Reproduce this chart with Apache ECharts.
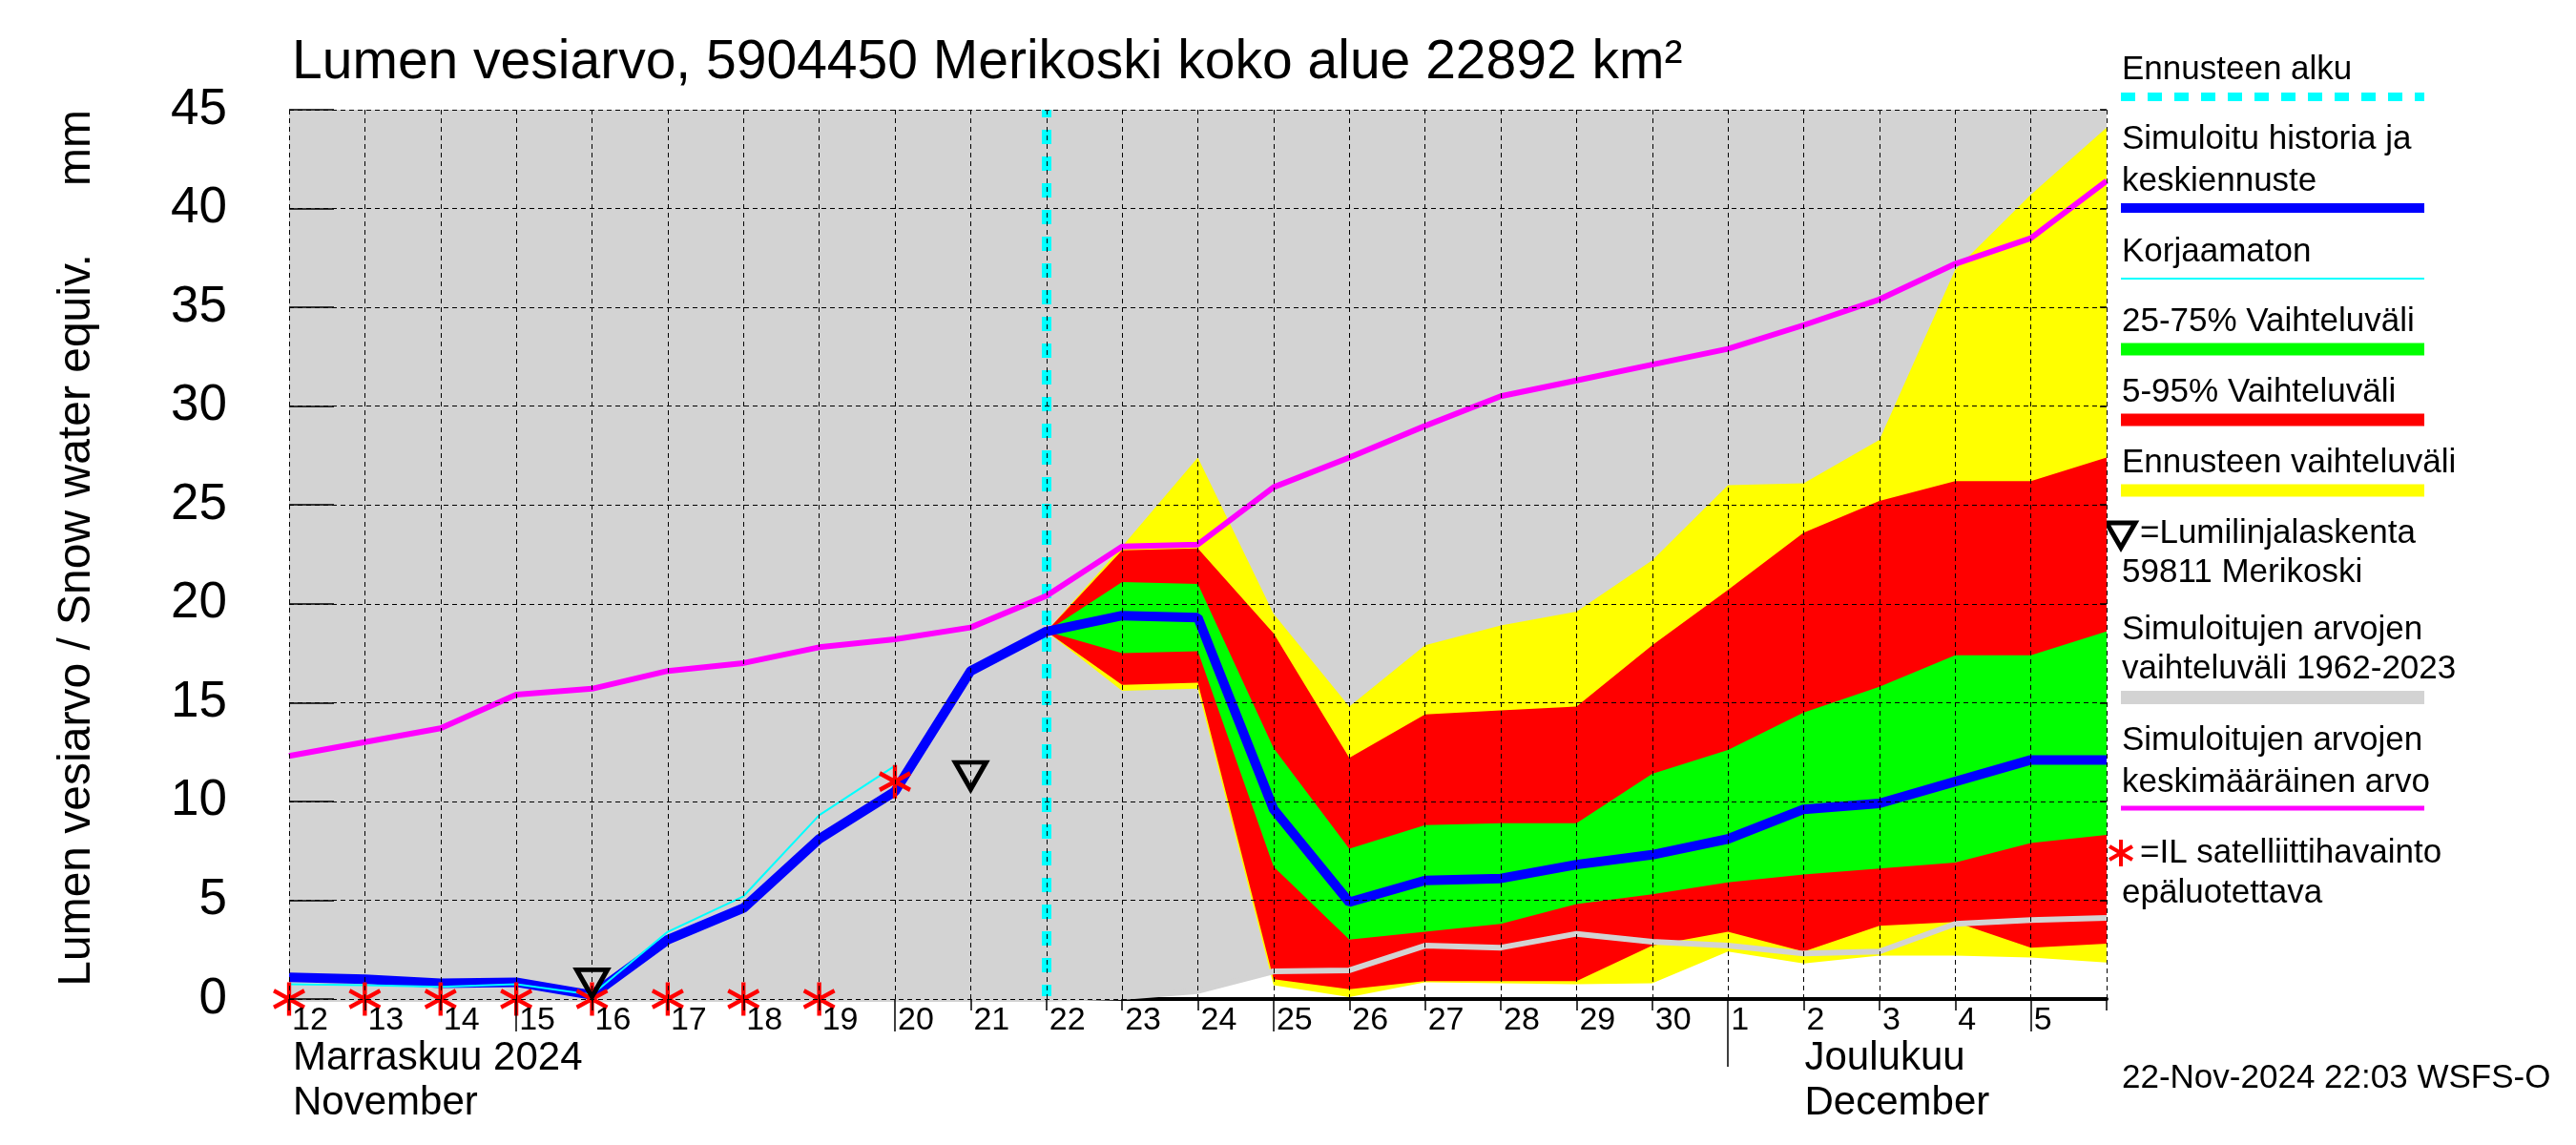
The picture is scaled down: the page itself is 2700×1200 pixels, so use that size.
<!DOCTYPE html>
<html>
<head>
<meta charset="utf-8">
<script src="https://cdn.jsdelivr.net/npm/echarts@6/dist/echarts.min.js"></script>
<style>
html,body{margin:0;padding:0;background:#fff;}
#c{width:2700px;height:1200px;}
</style>
</head>
<body>
<div id="c"></div>
<script>
// ---- categories: days from 12 Nov 2024 to 6 Dec 2024 (00:00 of each day) ----
const days = ['12','13','14','15','16','17','18','19','20','21','22','23','24','25','26','27','28','29','30','1','2','3','4','5','6'];
const yTicks = [0, 5, 10, 15, 20, 25, 30, 35, 40, 45];
const Y_MIN = 0, Y_MAX = 45, Y_STEP = 5;

// ---- series values (mm) ----
const simulated = [1.1, 1.0, 0.8, 0.85, 0.2, 3.0, 4.6, 8.1, 10.5, 16.6, 18.6, 19.4, 19.3, 9.6, 4.9, 6.0, 6.1, 6.8, 7.3, 8.1, 9.6, 9.9, 11.0, 12.1, 12.1];
const uncorrected = [0.75, 0.7, 0.62, 0.75, 0.22, 3.4, 5.2, 9.3, 11.8, null, null, null, null, null, null, null, null, null, null, null, null, null, null, null, null];
const histMean = [12.3, 13.0, 13.7, 15.4, 15.7, 16.6, 17.0, 17.8, 18.2, 18.8, 20.4, 22.9, 23.0, 25.9, 27.4, 29.0, 30.5, 31.3, 32.1, 32.9, 34.1, 35.4, 37.2, 38.5, 41.4];
const histMin = [0, 0, 0, 0, 0, 0, 0, 0, 0, 0, 0, 0.1, 0.4, 1.4, 1.45, 2.7, 2.6, 3.3, 2.9, 2.7, 2.3, 2.4, 3.8, 4.0, 4.1];
const fcMax = [null, null, null, null, null, null, null, null, null, null, 18.6, 22.9, 27.4, 19.5, 14.8, 17.9, 18.9, 19.6, 22.2, 26.0, 26.1, 28.3, 36.9, 40.7, 44.1];
const fcMin = [null, null, null, null, null, null, null, null, null, null, 18.6, 15.6, 15.7, 0.7, 0.1, 0.85, 0.8, 0.75, 0.8, 2.4, 1.8, 2.2, 2.2, 2.1, 1.85];
const p95 = [null, null, null, null, null, null, null, null, null, null, 18.6, 22.7, 22.8, 18.5, 12.2, 14.4, 14.6, 14.8, 17.9, 20.7, 23.6, 25.2, 26.2, 26.2, 27.4];
const p05 = [null, null, null, null, null, null, null, null, null, null, 18.6, 15.9, 16.0, 1.0, 0.5, 0.9, 0.9, 0.9, 2.7, 3.4, 2.4, 3.7, 3.9, 2.6, 2.8];
const p75 = [null, null, null, null, null, null, null, null, null, null, 18.6, 21.1, 21.0, 12.7, 7.6, 8.8, 8.9, 8.9, 11.4, 12.6, 14.5, 15.8, 17.4, 17.4, 18.6];
const p25 = [null, null, null, null, null, null, null, null, null, null, 18.6, 17.5, 17.6, 6.7, 3.0, 3.4, 3.8, 4.8, 5.3, 5.9, 6.3, 6.6, 6.9, 7.9, 8.3];

// ---- point observations ----
const satDays = ['12','13','14','15','16','17','18','19','20'];
const satValues = [0, 0, 0, 0, 0, 0, 0, 0, 11.0];
const snowLineDays = ['16','21'];
const snowLineValues = [0.8, 11.3];
const forecastStartDay = '22';

// ---- texts ----
const titleText = 'Lumen vesiarvo, 5904450 Merikoski koko alue 22892 km\u00b2';
const yNameMain = 'Lumen vesiarvo / Snow water equiv.';
const yNameUnit = 'mm';
const monthLabels = [
  {day: '12', lines: ['Marraskuu 2024', 'November'], dx: 4},
  {day: '2', lines: ['Joulukuu', 'December'], dx: 1}
];
const stampText = '22-Nov-2024 22:03 WSFS-O';

const FONT = '"Liberation Sans", Arial, Helvetica, sans-serif';
const STAR = 'path://M0,-1L0,1M-0.9,-0.5L0.9,0.5M-0.9,0.5L0.9,-0.5';

function diff(hi, lo) {
  return hi.map((v, i) => (v == null || lo[i] == null) ? null : +(v - lo[i]).toFixed(4));
}
const histTop = histMin.map(() => Y_MAX);

function baseSeries(stack, data, z) {
  return {type: 'line', stack: stack, data: data, symbol: 'none', silent: true, z: z,
    lineStyle: {width: 0, opacity: 0}};
}
function bandSeries(stack, data, color, z) {
  return {type: 'line', stack: stack, data: data, symbol: 'none', silent: true, z: z,
    lineStyle: {width: 0, opacity: 0}, areaStyle: {color: color, opacity: 1}};
}
function lineSeries(data, color, width, z) {
  return {type: 'line', data: data, symbol: 'none', silent: true, z: z,
    lineStyle: {color: color, width: width}};
}

const chart = echarts.init(document.getElementById('c'), null, {renderer: 'canvas'});

const gridLine = {show: true, lineStyle: {color: '#000', width: 1, type: [5, 4]}};

const option = {
  animation: false,
  backgroundColor: '#ffffff',
  grid: {left: 303, top: 115, width: 1905, height: 932},
  xAxis: [
    { // main axis: grid lines, labels, short ticks
      type: 'category', data: days, boundaryGap: false, z: 10,
      axisLine: {show: false},
      axisTick: {show: true, interval: 0, length: 12, lineStyle: {color: '#000', width: 1.5}},
      axisLabel: {interval: 0, align: 'left', padding: [0, 0, 0, 3], margin: 6,
        fontSize: 34, fontFamily: FONT, color: '#000',
        formatter: (v, i) => (i === days.length - 1 ? '' : v)},
      splitLine: Object.assign({interval: 0}, gridLine)
    },
    { // bottom base line, drawn below the historical range area
      type: 'category', data: days, boundaryGap: false, position: 'bottom', offset: 0, z: 0,
      axisLine: {show: true, lineStyle: {color: '#000', width: 4}},
      axisTick: {show: false}, axisLabel: {show: false}, splitLine: {show: false}
    },
    { // longer ticks every 5 days
      type: 'category', data: days, boundaryGap: false, position: 'bottom', offset: 0, z: 10,
      axisLine: {show: false}, axisLabel: {show: false}, splitLine: {show: false},
      axisTick: {show: true, length: 34, lineStyle: {color: '#000', width: 1.5},
        interval: (i, v) => ['15', '20', '25', '5'].indexOf(v) >= 0}
    },
    { // month boundary tick
      type: 'category', data: days, boundaryGap: false, position: 'bottom', offset: 0, z: 10,
      axisLine: {show: false}, axisLabel: {show: false}, splitLine: {show: false},
      axisTick: {show: true, length: 71, lineStyle: {color: '#000', width: 1.5},
        interval: (i, v) => v === '1'}
    }
  ],
  yAxis: [
    {
      type: 'value', min: Y_MIN, max: Y_MAX, interval: Y_STEP, z: 10,
      axisLine: {show: false},
      axisTick: {show: true, inside: true, length: 47, lineStyle: {color: '#000', width: 1.5}},
      axisLabel: {margin: 65, fontSize: 53, fontFamily: FONT, color: '#000',
        formatter: v => (yTicks.indexOf(v) >= 0 ? String(v) : '')},
      splitLine: gridLine
    },
    {
      type: 'value', min: Y_MIN, max: Y_MAX, interval: Y_STEP, position: 'right', z: 10,
      axisLine: {show: false}, axisLabel: {show: false}, splitLine: {show: false},
      axisTick: {show: true, inside: true, length: 7, lineStyle: {color: '#000', width: 1.5}}
    }
  ],
  series: [
    // historical range 1962-2023 (grey)
    baseSeries('hist', histMin, 1),
    bandSeries('hist', diff(histTop, histMin), '#d3d3d3', 1),
    // forecast full range (yellow)
    baseSeries('fc', fcMin, 2),
    bandSeries('fc', diff(fcMax, fcMin), '#ffff00', 2),
    // 5-95 % (red)
    baseSeries('p90', p05, 2),
    bandSeries('p90', diff(p95, p05), '#ff0000', 2),
    // 25-75 % (green)
    baseSeries('p50', p25, 2),
    bandSeries('p50', diff(p75, p25), '#00ff00', 2),
    // forecast start marker
    {
      type: 'line', data: [], silent: true, z: 3,
      markLine: {silent: true, symbol: 'none', z: 3, animation: false,
        label: {show: false},
        lineStyle: {color: '#00ffff', width: 10, type: [15, 13]},
        data: [{xAxis: forecastStartDay}]}
    },
    // lower edge of historical range, drawn over bands
    lineSeries(histMin, '#d3d3d3', 6, 4),
    // historical mean (magenta)
    lineSeries(histMean, '#ff00ff', 6, 4),
    // simulated history & mean forecast (blue)
    lineSeries(simulated, '#0000ff', 10, 4),
    // uncorrected (thin cyan)
    lineSeries(uncorrected, '#00ffff', 2, 4),
    // IL satellite observations (unreliable)
    {
      type: 'scatter', silent: true, z: 5,
      data: satDays.map((d, i) => [d, satValues[i]]),
      symbol: STAR, symbolSize: [32, 35],
      itemStyle: {color: 'rgba(0,0,0,0)', borderColor: '#ff0000', borderWidth: 4.5, opacity: 1}
    },
    // snow line survey
    {
      type: 'scatter', silent: true, z: 5,
      data: snowLineDays.map((d, i) => [d, snowLineValues[i]]),
      symbol: 'triangle', symbolRotate: 180, symbolSize: [32, 28],
      itemStyle: {color: 'rgba(0,0,0,0)', borderColor: '#000000', borderWidth: 5, opacity: 1}
    }
  ]
};

chart.setOption(option);

// ---- texts and legend as graphic elements ----
function txt(t, x, y, size, extra) {
  return Object.assign({type: 'text', x: x, y: y, silent: true,
    style: {text: t, fontSize: size, fontFamily: FONT, fill: '#000', align: 'left', verticalAlign: 'middle'}}, extra || {});
}
function hline(y, color, width, dash) {
  return {type: 'line', silent: true,
    shape: {x1: 2223, y1: y, x2: 2541, y2: y},
    style: {stroke: color, lineWidth: width, lineDash: dash || null}};
}

const LT = 2224, LF = 35;
const g = [];
g.push(txt(titleText, 306, 66, 57));
g.push(Object.assign(txt(yNameMain, 81, 650, 48), {rotation: Math.PI / 2}));
g[g.length - 1].style.align = 'center';
g.push(Object.assign(txt(yNameUnit, 81, 155, 48), {rotation: Math.PI / 2}));
g[g.length - 1].style.align = 'center';

// legend
g.push(txt('Ennusteen alku', LT, 73, LF));
g.push(hline(101.5, '#00ffff', 9, [15, 13]));
g.push(txt('Simuloitu historia ja', LT, 146, LF));
g.push(txt('keskiennuste', LT, 190, LF));
g.push(hline(218, '#0000ff', 10));
g.push(txt('Korjaamaton', LT, 264, LF));
g.push(hline(292, '#00ffff', 2));
g.push(txt('25-75% Vaihteluväli', LT, 337, LF));
g.push(hline(366, '#00ff00', 13));
g.push(txt('5-95% Vaihteluväli', LT, 411, LF));
g.push(hline(440, '#ff0000', 13));
g.push(txt('Ennusteen vaihteluväli', LT, 485, LF));
g.push(hline(514, '#ffff00', 13));
g.push({type: 'polygon', silent: true, shape: {points: [[2208, 548], [2238, 548], [2223, 574]]},
  style: {fill: 'none', stroke: '#000', lineWidth: 5}});
g.push(txt('=Lumilinjalaskenta', 2243, 559, LF));
g.push(txt('59811 Merikoski', LT, 600, LF));
g.push(txt('Simuloitujen arvojen', LT, 660, LF));
g.push(txt('vaihteluväli 1962-2023', LT, 701, LF));
g.push(hline(731, '#d3d3d3', 14));
g.push(txt('Simuloitujen arvojen', LT, 776, LF));
g.push(txt('keskimääräinen arvo', LT, 820, LF));
g.push(hline(847, '#ff00ff', 5));
[[0, -14, 0, 14], [-12, -7, 12, 7], [-12, 7, 12, -7]].forEach(s => {
  g.push({type: 'line', silent: true, shape: {x1: 2223 + s[0], y1: 894 + s[1], x2: 2223 + s[2], y2: 894 + s[3]},
    style: {stroke: '#ff0000', lineWidth: 4}});
});
g.push(txt('=IL satelliittihavainto', 2243, 894, LF));
g.push(txt('epäluotettava', LT, 936, LF));
g.push(txt(stampText, LT, 1130, 35));

// month labels positioned from the category axis
monthLabels.forEach(m => {
  const px = chart.convertToPixel({xAxisIndex: 0}, m.day);
  g.push(txt(m.lines[0], px + m.dx, 1109, 42));
  g.push(txt(m.lines[1], px + m.dx, 1156, 42));
});

chart.setOption({graphic: {elements: g}});
</script>
</body>
</html>
